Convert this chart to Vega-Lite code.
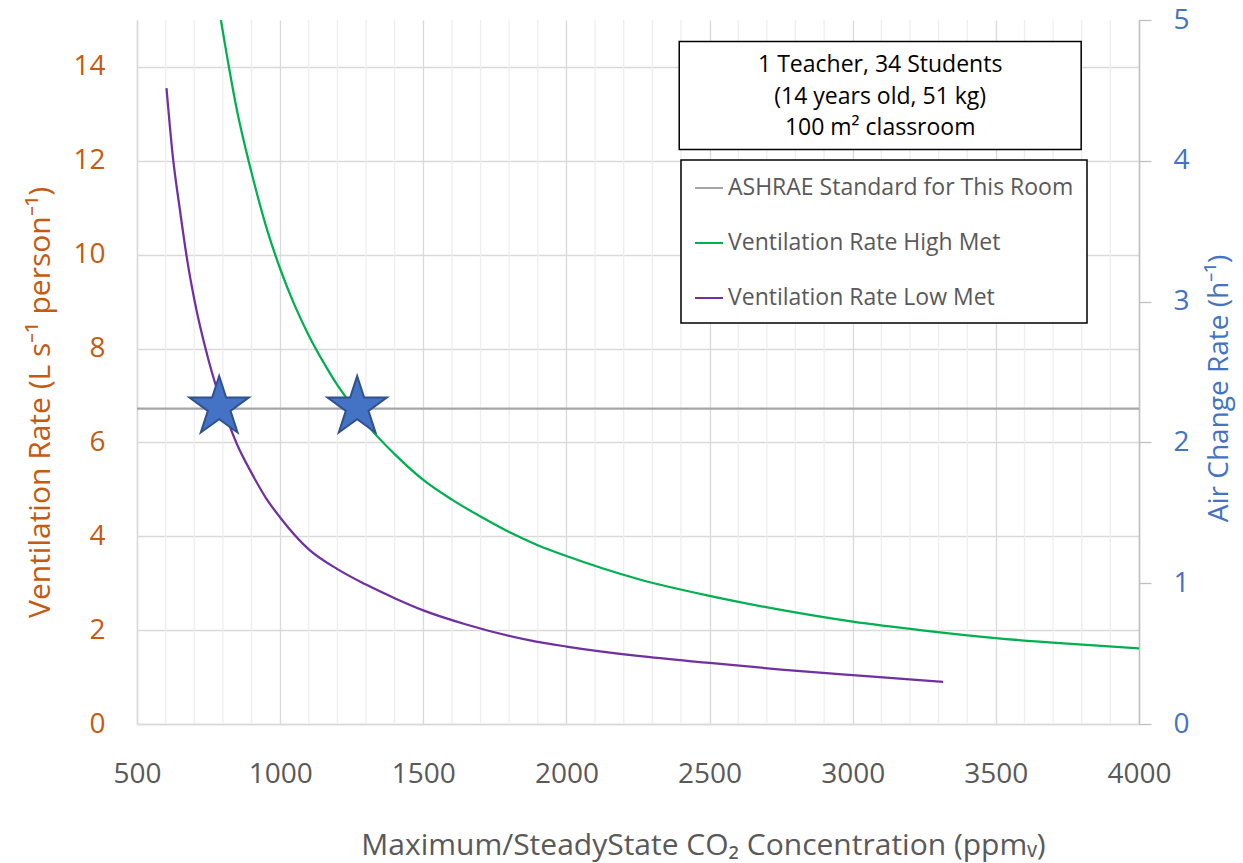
{
  "$schema": "https://vega.github.io/schema/vega-lite/v6.json",
  "width": 1002,
  "height": 704,
  "autosize": {"type": "none"},
  "padding": {"left": 137, "top": 20, "right": 104, "bottom": 139},
  "background": "white",
  "config": {
    "view": {"stroke": null},
    "font": "Open Sans, sans-serif",
    "legend": {
      "orient": "none",
      "legendX": 544,
      "legendY": 140,
      "strokeColor": "black",
      "strokeWidth": 1.5,
      "fillColor": "white",
      "padding": 13,
      "symbolType": "stroke",
      "symbolSize": 784,
      "symbolStrokeWidth": 2,
      "labelFontSize": 23,
      "labelColor": "#595959",
      "labelOffset": 4,
      "labelLimit": 600,
      "rowPadding": 28
    }
  },
  "datasets": {
    "minor": [
      {"ppm": 600}, {"ppm": 700}, {"ppm": 800}, {"ppm": 900},
      {"ppm": 1100}, {"ppm": 1200}, {"ppm": 1300}, {"ppm": 1400},
      {"ppm": 1600}, {"ppm": 1700}, {"ppm": 1800}, {"ppm": 1900},
      {"ppm": 2100}, {"ppm": 2200}, {"ppm": 2300}, {"ppm": 2400},
      {"ppm": 2600}, {"ppm": 2700}, {"ppm": 2800}, {"ppm": 2900},
      {"ppm": 3100}, {"ppm": 3200}, {"ppm": 3300}, {"ppm": 3400},
      {"ppm": 3600}, {"ppm": 3700}, {"ppm": 3800}, {"ppm": 3900}
    ],
    "curves": [
      {"ppm": 500, "rate": 6.72, "series": "ASHRAE Standard for This Room"},
      {"ppm": 4000, "rate": 6.72, "series": "ASHRAE Standard for This Room"},
      {"ppm": 793, "rate": 15.0, "series": "Ventilation Rate High Met"},
      {"ppm": 850, "rate": 13.05, "series": "Ventilation Rate High Met"},
      {"ppm": 900, "rate": 11.75, "series": "Ventilation Rate High Met"},
      {"ppm": 950, "rate": 10.62, "series": "Ventilation Rate High Met"},
      {"ppm": 1000, "rate": 9.7, "series": "Ventilation Rate High Met"},
      {"ppm": 1050, "rate": 8.93, "series": "Ventilation Rate High Met"},
      {"ppm": 1100, "rate": 8.28, "series": "Ventilation Rate High Met"},
      {"ppm": 1150, "rate": 7.72, "series": "Ventilation Rate High Met"},
      {"ppm": 1200, "rate": 7.22, "series": "Ventilation Rate High Met"},
      {"ppm": 1260, "rate": 6.72, "series": "Ventilation Rate High Met"},
      {"ppm": 1300, "rate": 6.4, "series": "Ventilation Rate High Met"},
      {"ppm": 1400, "rate": 5.75, "series": "Ventilation Rate High Met"},
      {"ppm": 1500, "rate": 5.2, "series": "Ventilation Rate High Met"},
      {"ppm": 1600, "rate": 4.78, "series": "Ventilation Rate High Met"},
      {"ppm": 1700, "rate": 4.42, "series": "Ventilation Rate High Met"},
      {"ppm": 1800, "rate": 4.09, "series": "Ventilation Rate High Met"},
      {"ppm": 1900, "rate": 3.81, "series": "Ventilation Rate High Met"},
      {"ppm": 2000, "rate": 3.58, "series": "Ventilation Rate High Met"},
      {"ppm": 2250, "rate": 3.09, "series": "Ventilation Rate High Met"},
      {"ppm": 2500, "rate": 2.73, "series": "Ventilation Rate High Met"},
      {"ppm": 2750, "rate": 2.43, "series": "Ventilation Rate High Met"},
      {"ppm": 3000, "rate": 2.18, "series": "Ventilation Rate High Met"},
      {"ppm": 3250, "rate": 1.99, "series": "Ventilation Rate High Met"},
      {"ppm": 3500, "rate": 1.83, "series": "Ventilation Rate High Met"},
      {"ppm": 3750, "rate": 1.71, "series": "Ventilation Rate High Met"},
      {"ppm": 4000, "rate": 1.61, "series": "Ventilation Rate High Met"},
      {"ppm": 603, "rate": 13.55, "series": "Ventilation Rate Low Met"},
      {"ppm": 625, "rate": 12.1, "series": "Ventilation Rate Low Met"},
      {"ppm": 650, "rate": 10.95, "series": "Ventilation Rate Low Met"},
      {"ppm": 675, "rate": 9.9, "series": "Ventilation Rate Low Met"},
      {"ppm": 700, "rate": 9.05, "series": "Ventilation Rate Low Met"},
      {"ppm": 750, "rate": 7.75, "series": "Ventilation Rate Low Met"},
      {"ppm": 800, "rate": 6.75, "series": "Ventilation Rate Low Met"},
      {"ppm": 850, "rate": 5.95, "series": "Ventilation Rate Low Met"},
      {"ppm": 900, "rate": 5.35, "series": "Ventilation Rate Low Met"},
      {"ppm": 950, "rate": 4.82, "series": "Ventilation Rate Low Met"},
      {"ppm": 1000, "rate": 4.4, "series": "Ventilation Rate Low Met"},
      {"ppm": 1100, "rate": 3.72, "series": "Ventilation Rate Low Met"},
      {"ppm": 1200, "rate": 3.3, "series": "Ventilation Rate Low Met"},
      {"ppm": 1300, "rate": 2.97, "series": "Ventilation Rate Low Met"},
      {"ppm": 1400, "rate": 2.68, "series": "Ventilation Rate Low Met"},
      {"ppm": 1500, "rate": 2.42, "series": "Ventilation Rate Low Met"},
      {"ppm": 1650, "rate": 2.12, "series": "Ventilation Rate Low Met"},
      {"ppm": 1873, "rate": 1.78, "series": "Ventilation Rate Low Met"},
      {"ppm": 2000, "rate": 1.65, "series": "Ventilation Rate Low Met"},
      {"ppm": 2250, "rate": 1.45, "series": "Ventilation Rate Low Met"},
      {"ppm": 2500, "rate": 1.3, "series": "Ventilation Rate Low Met"},
      {"ppm": 2750, "rate": 1.16, "series": "Ventilation Rate Low Met"},
      {"ppm": 3000, "rate": 1.04, "series": "Ventilation Rate Low Met"},
      {"ppm": 3316, "rate": 0.9, "series": "Ventilation Rate Low Met"}
    ],
    "stars": [
      {"ppm": 787, "rate": 6.75},
      {"ppm": 1269, "rate": 6.75}
    ],
    "box": [
      {"ppm": 2394, "ppm2": 3798, "rate": 12.24, "rate2": 14.54}
    ],
    "notes": [
      {"ppm": 3096, "rate": 14.05, "text": "1 Teacher, 34 Students"},
      {"ppm": 3096, "rate": 13.37, "text": "(14 years old, 51 kg)"},
      {"ppm": 3096, "rate": 12.69, "text": "100 m² classroom"}
    ]
  },
  "layer": [
    {
      "layer": [
        {
          "data": {"name": "minor"},
          "mark": {"type": "rule", "color": "#EEEEEE", "strokeWidth": 1.3},
          "encoding": {
            "x": {"field": "ppm", "type": "quantitative"}
          }
        },
        {
          "data": {"name": "curves"},
          "mark": {"type": "line", "strokeWidth": 2.25, "clip": true, "interpolate": "monotone"},
          "encoding": {
            "x": {
              "field": "ppm", "type": "quantitative",
              "scale": {"domain": [500, 4000], "nice": false, "zero": false},
              "axis": {
                "title": "Maximum/SteadyState CO₂ Concentration (ppmᵥ)",
                "values": [500, 1000, 1500, 2000, 2500, 3000, 3500, 4000],
                "format": "d",
                "grid": true,
                "gridColor": "#D9D9D9",
                "gridWidth": 1.3,
                "ticks": false,
                "tickSize": 0,
                "domainColor": "#D9D9D9",
                "domainWidth": 1.5,
                "labelFontSize": 28,
                "labelColor": "#595959",
                "labelPadding": 50,
                "labelBaseline": "middle",
                "labelFlush": false,
                "labelOverlap": false,
                "labelBound": false,
                "titleFontSize": 30,
                "titleFontWeight": "normal",
                "titleColor": "#595959",
                "titleX": 566,
                "titleY": 121,
                "titleAlign": "center",
                "titleBaseline": "middle"
              }
            },
            "y": {
              "field": "rate", "type": "quantitative",
              "scale": {"domain": [0, 15], "nice": false},
              "axis": {
                "title": "Ventilation Rate (L s⁻¹ person⁻¹)",
                "values": [0, 2, 4, 6, 8, 10, 12, 14],
                "grid": true,
                "gridColor": "#D9D9D9",
                "gridWidth": 1.3,
                "ticks": false,
                "tickSize": 0,
                "domainColor": "#D9D9D9",
                "domainWidth": 1.5,
                "labelFontSize": 28,
                "labelColor": "#C55A11",
                "labelPadding": 32,
                "labelOverlap": false,
                "titleFontSize": 30,
                "titleFontWeight": "normal",
                "titleColor": "#C55A11",
                "titleX": -97,
                "titleY": 382,
                "titleAngle": -90,
                "titleAlign": "center",
                "titleBaseline": "middle"
              }
            },
            "color": {
              "field": "series", "type": "nominal",
              "scale": {
                "domain": ["ASHRAE Standard for This Room", "Ventilation Rate High Met", "Ventilation Rate Low Met"],
                "range": ["#A5A5A5", "#00B050", "#7030A0"]
              },
              "legend": {"title": null}
            }
          }
        },
        {
          "data": {"name": "stars"},
          "mark": {
            "type": "point",
            "shape": "M0,-1L0.2245,-0.309L0.951,-0.309L0.363,0.118L0.588,0.809L0,0.382L-0.588,0.809L-0.363,0.118L-0.951,-0.309L-0.2245,-0.309Z",
            "size": 3900,
            "filled": true,
            "fill": "#4472C4",
            "stroke": "#2F528F",
            "strokeWidth": 2,
            "opacity": 1
          },
          "encoding": {
            "x": {"field": "ppm", "type": "quantitative"},
            "y": {"field": "rate", "type": "quantitative"}
          }
        },
        {
          "data": {"name": "box"},
          "mark": {"type": "rect", "fill": "white", "stroke": "black", "strokeWidth": 1.5},
          "encoding": {
            "x": {"field": "ppm", "type": "quantitative"},
            "x2": {"field": "ppm2"},
            "y": {"field": "rate", "type": "quantitative"},
            "y2": {"field": "rate2"}
          }
        },
        {
          "data": {"name": "notes"},
          "mark": {"type": "text", "fontSize": 23, "color": "black", "align": "center", "baseline": "middle"},
          "encoding": {
            "x": {"field": "ppm", "type": "quantitative"},
            "y": {"field": "rate", "type": "quantitative"},
            "text": {"field": "text"}
          }
        }
      ]
    },
    {
      "mark": {"type": "rule", "color": "black", "strokeWidth": 2},
      "encoding": {
        "y": {
          "datum": 5, "type": "quantitative",
          "scale": {"domain": [0, 5], "nice": false},
          "axis": {
            "orient": "right",
            "title": "Air Change Rate (h⁻¹)",
            "values": [0, 1, 2, 3, 4, 5],
            "grid": false,
            "ticks": true,
            "tickSize": 12,
            "tickColor": "#BFBFBF",
            "tickWidth": 1.3,
            "domainColor": "#BFBFBF",
            "domainWidth": 1.5,
            "labelFontSize": 28,
            "labelColor": "#4472C4",
            "labelPadding": 22,
            "labelOverlap": false,
            "titleFontSize": 28,
            "titleFontWeight": "normal",
            "titleColor": "#4472C4",
            "titleX": 80,
            "titleY": 368,
            "titleAngle": -90,
            "titleAlign": "center",
            "titleBaseline": "middle"
          }
        }
      }
    }
  ],
  "resolve": {"scale": {"y": "independent"}}
}
